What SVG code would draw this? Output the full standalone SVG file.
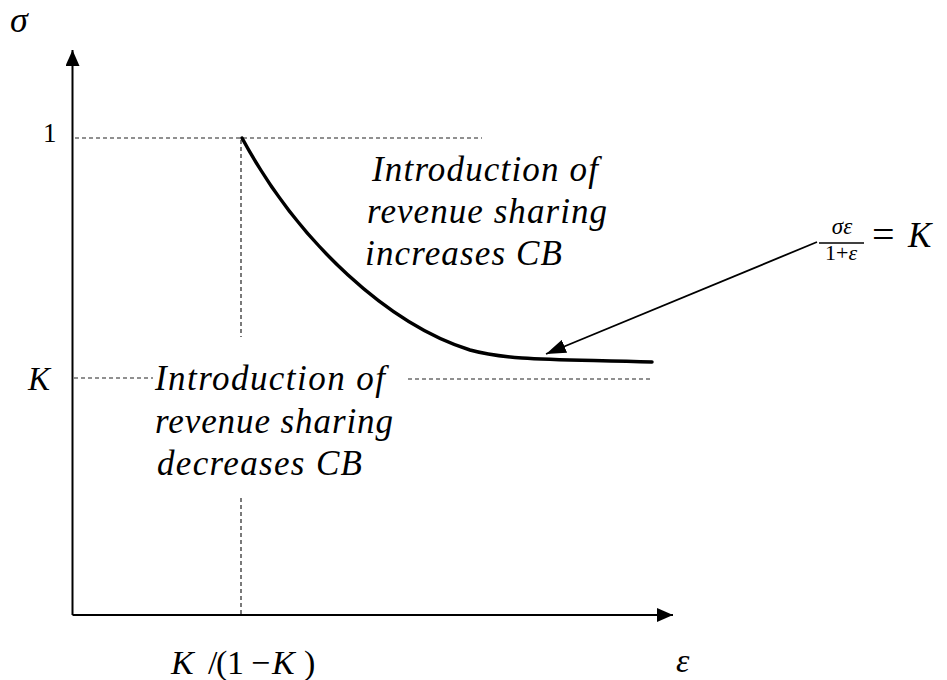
<svg xmlns="http://www.w3.org/2000/svg" width="947" height="680" viewBox="0 0 947 680">
  <style>
    .lbl { font-family: "Liberation Serif", "Times New Roman", serif; fill: #000; }
    .it { font-style: italic; }
    .note { font-family: "Liberation Serif", "Times New Roman", serif; font-style: italic; font-size: 35px; fill: #000; }
    .dash { stroke: #222; stroke-width: 1.2; stroke-dasharray: 4 3; fill: none; }
    .axis { stroke: #000; stroke-width: 2; fill: none; }
  </style>
  <defs>
    <marker id="axisHead" markerWidth="16" markerHeight="14" refX="16" refY="7" orient="auto" markerUnits="userSpaceOnUse">
      <path d="M0,0 L16,7 L0,14 Z" fill="#000"/>
    </marker>
    <marker id="pointerHead" markerWidth="20" markerHeight="14" refX="20" refY="7" orient="auto" markerUnits="userSpaceOnUse">
      <path d="M0,0 L20,7 L0,14 Z" fill="#000"/>
    </marker>
  </defs>

  <rect width="947" height="680" fill="#fff"/>

  <!-- axes -->
  <g id="axes">
    <line class="axis" x1="72.5" y1="615" x2="72.5" y2="50" marker-end="url(#axisHead)"/>
    <line class="axis" x1="72.5" y1="615" x2="673" y2="615" marker-end="url(#axisHead)"/>
    <text class="lbl it" x="10" y="32" font-size="36">σ</text>
    <text class="lbl it" x="676" y="672" font-size="34">ε</text>
  </g>

  <!-- reference lines -->
  <g id="guides">
    <line class="dash" x1="75" y1="138" x2="482" y2="138"/>
    <line class="dash" x1="241" y1="140" x2="241" y2="337"/>
    <line class="dash" x1="241" y1="498" x2="241" y2="614"/>
    <line class="dash" x1="74" y1="378" x2="153" y2="378"/>
    <line class="dash" x1="408" y1="379" x2="650" y2="379"/>
  </g>

  <!-- tick labels -->
  <g id="ticks">
    <text class="lbl" x="43" y="142" font-size="27">1</text>
    <text class="lbl it" x="28" y="390" font-size="33">K</text>
    <g id="threshold" font-size="34">
      <text class="lbl it" x="171" y="674">K</text>
      <text class="lbl" x="208" y="674">/</text>
      <text class="lbl" x="216" y="674">(</text>
      <text class="lbl" x="227" y="674">1</text>
      <text class="lbl" x="251" y="674">−</text>
      <text class="lbl it" x="272" y="674">K</text>
      <text class="lbl" x="304" y="674">)</text>
    </g>
  </g>

  <!-- iso-curve σε/(1+ε) = K -->
  <g id="curve">
    <path d="M242,138 C300,245 390,325 470,350 C510,361 560,359 652,362" fill="none" stroke="#000" stroke-width="3.5" stroke-linecap="round"/>
  </g>

  <!-- region notes -->
  <g id="note-increase">
    <text class="note" x="372" y="181" textLength="226" lengthAdjust="spacing">Introduction of</text>
    <text class="note" x="367" y="223" textLength="240" lengthAdjust="spacing">revenue sharing</text>
    <text class="note" x="365" y="265" textLength="197" lengthAdjust="spacing">increases CB</text>
  </g>
  <g id="note-decrease">
    <text class="note" x="155" y="390" textLength="230" lengthAdjust="spacing">Introduction of</text>
    <text class="note" x="155" y="433" textLength="238" lengthAdjust="spacing">revenue sharing</text>
    <text class="note" x="157" y="475" textLength="205" lengthAdjust="spacing">decreases CB</text>
  </g>

  <!-- curve equation -->
  <g id="equation">
    <text class="lbl it" x="842" y="234" font-size="23" text-anchor="middle">σε</text>
    <line x1="819" y1="243" x2="864" y2="243" stroke="#000" stroke-width="1.3"/>
    <text class="lbl" x="841" y="260" font-size="22" text-anchor="middle">1+<tspan font-style="italic">ε</tspan></text>
    <text class="lbl" x="872" y="248" font-size="40">=</text>
    <text class="lbl it" x="908" y="247" font-size="35">K</text>
  </g>

  <!-- pointer from equation to curve -->
  <g id="connectors">
    <line x1="817" y1="242" x2="546" y2="354" stroke="#000" stroke-width="1.8" marker-end="url(#pointerHead)"/>
  </g>
</svg>
